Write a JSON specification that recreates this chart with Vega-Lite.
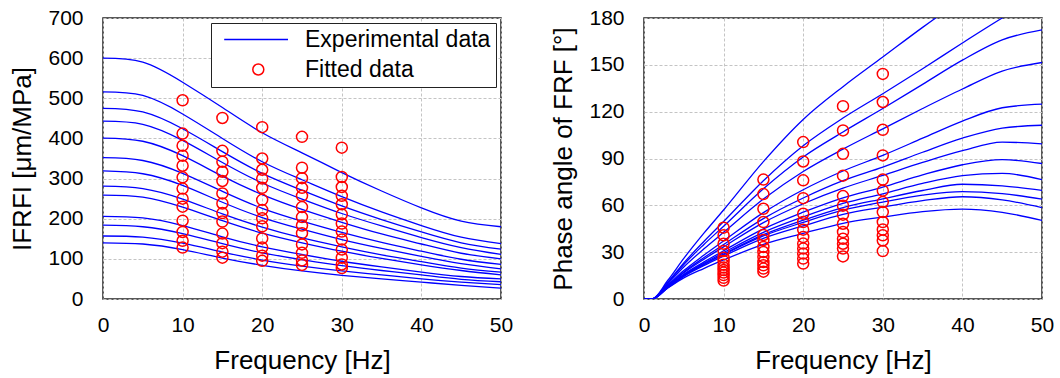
{
"$schema": "https://vega.github.io/schema/vega-lite/v6.json",
"padding": {"left": 9, "top": 6, "right": 5, "bottom": 0},
"background": "#ffffff",
"config": {
  "font": "Liberation Sans",
  "view": {"stroke": "#222222", "strokeWidth": 1.5},
  "axis": {"labelFont": "Liberation Sans", "labelFontSize": 21, "labelColor": "#000000", "labelFlush": false, "labelOverlap": false, "titleFont": "Liberation Sans", "titleFontWeight": "normal", "titleColor": "#000000", "domain": false, "ticks": false, "grid": true, "gridColor": "#c4c4c4", "gridDash": [3, 2], "gridWidth": 1},
  "axisX": {"labelPadding": 15, "titleFontSize": 26, "titlePadding": 12},
  "axisY": {"labelPadding": 20, "titleFontSize": 26, "titlePadding": 12},
  "legend": {"orient": "top-right", "offset": 5, "padding": 5, "strokeColor": "#222222", "fillColor": "#ffffff", "labelFont": "Liberation Sans", "labelFontSize": 23, "labelLimit": 400, "labelColor": "#000000", "symbolSize": 121, "symbolStrokeWidth": 1.5, "symbolOpacity": 1, "labelOffset": 66, "rowPadding": 6}
},
"datasets": {
  "ampLines": [
    {"c":1,"f":0,"v":600},{"c":1,"f":5,"v":590},{"c":1,"f":10,"v":540},{"c":1,"f":15,"v":477},{"c":1,"f":20,"v":414},{"c":1,"f":25,"v":364},{"c":1,"f":30,"v":315},{"c":1,"f":35,"v":269},{"c":1,"f":40,"v":227},{"c":1,"f":45,"v":194},{"c":1,"f":50,"v":180},
    {"c":2,"f":0,"v":516},{"c":2,"f":5,"v":507},{"c":2,"f":10,"v":461},{"c":2,"f":15,"v":400},{"c":2,"f":20,"v":342},{"c":2,"f":25,"v":297},{"c":2,"f":30,"v":255},{"c":2,"f":35,"v":217},{"c":2,"f":40,"v":183},{"c":2,"f":45,"v":154},{"c":2,"f":50,"v":138},
    {"c":3,"f":0,"v":475},{"c":3,"f":5,"v":466},{"c":3,"f":10,"v":424},{"c":3,"f":15,"v":367},{"c":3,"f":20,"v":313},{"c":3,"f":25,"v":271},{"c":3,"f":30,"v":232},{"c":3,"f":35,"v":198},{"c":3,"f":40,"v":167},{"c":3,"f":45,"v":140},{"c":3,"f":50,"v":124},
    {"c":4,"f":0,"v":443},{"c":4,"f":5,"v":435},{"c":4,"f":10,"v":395},{"c":4,"f":15,"v":340},{"c":4,"f":20,"v":289},{"c":4,"f":25,"v":249},{"c":4,"f":30,"v":213},{"c":4,"f":35,"v":182},{"c":4,"f":40,"v":153},{"c":4,"f":45,"v":128},{"c":4,"f":50,"v":111},
    {"c":5,"f":0,"v":401},{"c":5,"f":5,"v":393},{"c":5,"f":10,"v":357},{"c":5,"f":15,"v":306},{"c":5,"f":20,"v":260},{"c":5,"f":25,"v":223},{"c":5,"f":30,"v":191},{"c":5,"f":35,"v":162},{"c":5,"f":40,"v":137},{"c":5,"f":45,"v":114},{"c":5,"f":50,"v":100},
    {"c":6,"f":0,"v":352},{"c":6,"f":5,"v":345},{"c":6,"f":10,"v":313},{"c":6,"f":15,"v":268},{"c":6,"f":20,"v":226},{"c":6,"f":25,"v":194},{"c":6,"f":30,"v":166},{"c":6,"f":35,"v":141},{"c":6,"f":40,"v":119},{"c":6,"f":45,"v":99},{"c":6,"f":50,"v":86},
    {"c":7,"f":0,"v":319},{"c":7,"f":5,"v":312},{"c":7,"f":10,"v":283},{"c":7,"f":15,"v":241},{"c":7,"f":20,"v":203},{"c":7,"f":25,"v":174},{"c":7,"f":30,"v":148},{"c":7,"f":35,"v":126},{"c":7,"f":40,"v":106},{"c":7,"f":45,"v":88},{"c":7,"f":50,"v":75},
    {"c":8,"f":0,"v":281},{"c":8,"f":5,"v":275},{"c":8,"f":10,"v":249},{"c":8,"f":15,"v":212},{"c":8,"f":20,"v":179},{"c":8,"f":25,"v":152},{"c":8,"f":30,"v":130},{"c":8,"f":35,"v":110},{"c":8,"f":40,"v":93},{"c":8,"f":45,"v":77},{"c":8,"f":50,"v":67},
    {"c":9,"f":0,"v":259},{"c":9,"f":5,"v":254},{"c":9,"f":10,"v":229},{"c":9,"f":15,"v":195},{"c":9,"f":20,"v":164},{"c":9,"f":25,"v":140},{"c":9,"f":30,"v":119},{"c":9,"f":35,"v":101},{"c":9,"f":40,"v":85},{"c":9,"f":45,"v":71},{"c":9,"f":50,"v":60},
    {"c":10,"f":0,"v":206},{"c":10,"f":5,"v":202},{"c":10,"f":10,"v":183},{"c":10,"f":15,"v":155},{"c":10,"f":20,"v":130},{"c":10,"f":25,"v":111},{"c":10,"f":30,"v":94},{"c":10,"f":35,"v":80},{"c":10,"f":40,"v":67},{"c":10,"f":45,"v":56},{"c":10,"f":50,"v":50},
    {"c":11,"f":0,"v":184},{"c":11,"f":5,"v":180},{"c":11,"f":10,"v":163},{"c":11,"f":15,"v":138},{"c":11,"f":20,"v":115},{"c":11,"f":25,"v":98},{"c":11,"f":30,"v":83},{"c":11,"f":35,"v":71},{"c":11,"f":40,"v":60},{"c":11,"f":45,"v":49},{"c":11,"f":50,"v":43},
    {"c":12,"f":0,"v":157},{"c":12,"f":5,"v":154},{"c":12,"f":10,"v":139},{"c":12,"f":15,"v":117},{"c":12,"f":20,"v":97},{"c":12,"f":25,"v":82},{"c":12,"f":30,"v":70},{"c":12,"f":35,"v":60},{"c":12,"f":40,"v":50},{"c":12,"f":45,"v":42},{"c":12,"f":50,"v":36},
    {"c":13,"f":0,"v":140},{"c":13,"f":5,"v":137},{"c":13,"f":10,"v":123},{"c":13,"f":15,"v":102},{"c":13,"f":20,"v":84},{"c":13,"f":25,"v":70},{"c":13,"f":30,"v":59},{"c":13,"f":35,"v":50},{"c":13,"f":40,"v":42},{"c":13,"f":45,"v":34},{"c":13,"f":50,"v":27}
  ],
  "ampPts": [
    {"f":10,"v":495},{"f":10,"v":412},{"f":10,"v":382},{"f":10,"v":357},{"f":10,"v":332},{"f":10,"v":303},{"f":10,"v":275},{"f":10,"v":250},{"f":10,"v":230},{"f":10,"v":195},{"f":10,"v":167},{"f":10,"v":145},{"f":10,"v":128},
    {"f":15,"v":451},{"f":15,"v":369},{"f":15,"v":342},{"f":15,"v":317},{"f":15,"v":294},{"f":15,"v":263},{"f":15,"v":238},{"f":15,"v":214},{"f":15,"v":193},{"f":15,"v":163},{"f":15,"v":139},{"f":15,"v":118},{"f":15,"v":103},
    {"f":20,"v":428},{"f":20,"v":350},{"f":20,"v":322},{"f":20,"v":300},{"f":20,"v":277},{"f":20,"v":247},{"f":20,"v":222},{"f":20,"v":201},{"f":20,"v":181},{"f":20,"v":151},{"f":20,"v":128},{"f":20,"v":108},{"f":20,"v":95},
    {"f":25,"v":404},{"f":25,"v":327},{"f":25,"v":301},{"f":25,"v":277},{"f":25,"v":257},{"f":25,"v":229},{"f":25,"v":204},{"f":25,"v":183},{"f":25,"v":164},{"f":25,"v":136},{"f":25,"v":115},{"f":25,"v":96},{"f":25,"v":85},
    {"f":30,"v":377},{"f":30,"v":304},{"f":30,"v":279},{"f":30,"v":257},{"f":30,"v":236},{"f":30,"v":211},{"f":30,"v":188},{"f":30,"v":168},{"f":30,"v":148},{"f":30,"v":123},{"f":30,"v":103},{"f":30,"v":86},{"f":30,"v":77}
  ],
  "phaseLines": [
    {"c":1,"f":0,"v":0},{"c":1,"f":1,"v":0},{"c":1,"f":3,"v":12},{"c":1,"f":5,"v":26},{"c":1,"f":7.5,"v":42},{"c":1,"f":10,"v":57},{"c":1,"f":15,"v":88},{"c":1,"f":20,"v":115},{"c":1,"f":25,"v":136},{"c":1,"f":30,"v":155},{"c":1,"f":35,"v":174},{"c":1,"f":40,"v":192},
    {"c":2,"f":0,"v":0},{"c":2,"f":1,"v":0},{"c":2,"f":3,"v":10.8},{"c":2,"f":5,"v":23.1},{"c":2,"f":7.5,"v":36.7},{"c":2,"f":10,"v":49.6},{"c":2,"f":15,"v":75.8},{"c":2,"f":20,"v":98.2},{"c":2,"f":25,"v":115.9},{"c":2,"f":30,"v":131.5},{"c":2,"f":35,"v":147.5},{"c":2,"f":40,"v":164},{"c":2,"f":45,"v":180},{"c":2,"f":50,"v":195},
    {"c":3,"f":0,"v":0},{"c":3,"f":1,"v":0},{"c":3,"f":3,"v":10.3},{"c":3,"f":5,"v":22.1},{"c":3,"f":7.5,"v":34.8},{"c":3,"f":10,"v":46.6},{"c":3,"f":15,"v":70.6},{"c":3,"f":20,"v":91},{"c":3,"f":25,"v":107},{"c":3,"f":30,"v":122},{"c":3,"f":35,"v":137.5},{"c":3,"f":40,"v":153},{"c":3,"f":45,"v":166},{"c":3,"f":50,"v":172.4},
    {"c":4,"f":0,"v":0},{"c":4,"f":1,"v":0},{"c":4,"f":3,"v":9.8},{"c":4,"f":5,"v":20.5},{"c":4,"f":7.5,"v":32},{"c":4,"f":10,"v":42.7},{"c":4,"f":15,"v":64},{"c":4,"f":20,"v":81.7},{"c":4,"f":25,"v":96},{"c":4,"f":30,"v":109},{"c":4,"f":35,"v":122},{"c":4,"f":40,"v":134.5},{"c":4,"f":45,"v":146},{"c":4,"f":50,"v":151.5},
    {"c":5,"f":0,"v":0},{"c":5,"f":1,"v":0},{"c":5,"f":3,"v":9},{"c":5,"f":5,"v":18.2},{"c":5,"f":7.5,"v":28},{"c":5,"f":10,"v":37.2},{"c":5,"f":15,"v":55.3},{"c":5,"f":20,"v":70},{"c":5,"f":25,"v":82},{"c":5,"f":30,"v":92},{"c":5,"f":35,"v":103},{"c":5,"f":40,"v":114},{"c":5,"f":45,"v":122.5},{"c":5,"f":50,"v":124.8},
    {"c":6,"f":0,"v":0},{"c":6,"f":1,"v":0},{"c":6,"f":3,"v":8.7},{"c":6,"f":5,"v":17.3},{"c":6,"f":7.5,"v":26.4},{"c":6,"f":10,"v":34.9},{"c":6,"f":15,"v":51.5},{"c":6,"f":20,"v":64.7},{"c":6,"f":25,"v":75.8},{"c":6,"f":30,"v":84.5},{"c":6,"f":35,"v":94},{"c":6,"f":40,"v":103},{"c":6,"f":45,"v":109.5},{"c":6,"f":50,"v":111.3},
    {"c":7,"f":0,"v":0},{"c":7,"f":1,"v":0},{"c":7,"f":3,"v":8.4},{"c":7,"f":5,"v":16.8},{"c":7,"f":7.5,"v":25.4},{"c":7,"f":10,"v":33.4},{"c":7,"f":15,"v":48.9},{"c":7,"f":20,"v":61},{"c":7,"f":25,"v":71},{"c":7,"f":30,"v":79.2},{"c":7,"f":35,"v":87.5},{"c":7,"f":40,"v":95},{"c":7,"f":45,"v":100.5},{"c":7,"f":50,"v":99.4},
    {"c":8,"f":0,"v":0},{"c":8,"f":1,"v":0},{"c":8,"f":3,"v":8},{"c":8,"f":5,"v":15.8},{"c":8,"f":7.5,"v":23.6},{"c":8,"f":10,"v":30.9},{"c":8,"f":15,"v":44.9},{"c":8,"f":20,"v":55.6},{"c":8,"f":25,"v":64.8},{"c":8,"f":30,"v":71.7},{"c":8,"f":35,"v":79.5},{"c":8,"f":40,"v":86},{"c":8,"f":45,"v":89.3},{"c":8,"f":50,"v":86.8},
    {"c":9,"f":0,"v":0},{"c":9,"f":1,"v":0},{"c":9,"f":3,"v":7.8},{"c":9,"f":5,"v":15.4},{"c":9,"f":7.5,"v":22.8},{"c":9,"f":10,"v":29.7},{"c":9,"f":15,"v":42.7},{"c":9,"f":20,"v":52.6},{"c":9,"f":25,"v":61.2},{"c":9,"f":30,"v":67.4},{"c":9,"f":35,"v":74},{"c":9,"f":40,"v":79},{"c":9,"f":45,"v":80.5},{"c":9,"f":50,"v":76.4},
    {"c":10,"f":0,"v":0},{"c":10,"f":1,"v":0},{"c":10,"f":3,"v":7.6},{"c":10,"f":5,"v":15.1},{"c":10,"f":7.5,"v":22.2},{"c":10,"f":10,"v":28.8},{"c":10,"f":15,"v":41.2},{"c":10,"f":20,"v":50.5},{"c":10,"f":25,"v":58.6},{"c":10,"f":30,"v":64.2},{"c":10,"f":35,"v":69.5},{"c":10,"f":40,"v":73.5},{"c":10,"f":45,"v":72.5},{"c":10,"f":50,"v":69.6},
    {"c":11,"f":0,"v":0},{"c":11,"f":1,"v":0},{"c":11,"f":3,"v":7.4},{"c":11,"f":5,"v":14.8},{"c":11,"f":7.5,"v":22},{"c":11,"f":10,"v":28.4},{"c":11,"f":15,"v":40.4},{"c":11,"f":20,"v":49.1},{"c":11,"f":25,"v":56.9},{"c":11,"f":30,"v":62.1},{"c":11,"f":35,"v":66.5},{"c":11,"f":40,"v":68.8},{"c":11,"f":45,"v":67.5},{"c":11,"f":50,"v":64},
    {"c":12,"f":0,"v":0},{"c":12,"f":1,"v":0},{"c":12,"f":3,"v":7.2},{"c":12,"f":5,"v":14.5},{"c":12,"f":7.5,"v":21.4},{"c":12,"f":10,"v":27.5},{"c":12,"f":15,"v":38.8},{"c":12,"f":20,"v":46.8},{"c":12,"f":25,"v":54.2},{"c":12,"f":30,"v":58.9},{"c":12,"f":35,"v":63},{"c":12,"f":40,"v":65.5},{"c":12,"f":45,"v":63.5},{"c":12,"f":50,"v":58.5},
    {"c":13,"f":0,"v":0},{"c":13,"f":1,"v":0},{"c":13,"f":3,"v":7},{"c":13,"f":5,"v":13.5},{"c":13,"f":7.5,"v":19.5},{"c":13,"f":10,"v":25},{"c":13,"f":15,"v":35},{"c":13,"f":20,"v":42},{"c":13,"f":25,"v":48.5},{"c":13,"f":30,"v":52.5},{"c":13,"f":35,"v":56},{"c":13,"f":40,"v":57.6},{"c":13,"f":45,"v":55.5},{"c":13,"f":50,"v":50.4}
  ],
  "phasePts": [
    {"f":10,"v":45.7},{"f":10,"v":40.8},{"f":10,"v":35.4},{"f":10,"v":30.7},{"f":10,"v":26.5},{"f":10,"v":24.3},{"f":10,"v":22},{"f":10,"v":20.2},{"f":10,"v":18.5},{"f":10,"v":16.9},{"f":10,"v":15.3},{"f":10,"v":13.6},{"f":10,"v":11.8},
    {"f":15,"v":76.5},{"f":15,"v":67.2},{"f":15,"v":57.8},{"f":15,"v":49.3},{"f":15,"v":41},{"f":15,"v":37.8},{"f":15,"v":33.3},{"f":15,"v":30.1},{"f":15,"v":26.9},{"f":15,"v":23.7},{"f":15,"v":21.6},{"f":15,"v":19.5},{"f":15,"v":17.5},
    {"f":20,"v":100.5},{"f":20,"v":88.1},{"f":20,"v":76},{"f":20,"v":64.6},{"f":20,"v":54.6},{"f":20,"v":49.3},{"f":20,"v":44.4},{"f":20,"v":39.7},{"f":20,"v":35.5},{"f":20,"v":32.3},{"f":20,"v":29.1},{"f":20,"v":25.9},{"f":20,"v":22.7},
    {"f":25,"v":123.5},{"f":25,"v":108},{"f":25,"v":93},{"f":25,"v":79},{"f":25,"v":65.9},{"f":25,"v":59.8},{"f":25,"v":54},{"f":25,"v":48.2},{"f":25,"v":42.9},{"f":25,"v":38.6},{"f":25,"v":35.4},{"f":25,"v":32.3},{"f":25,"v":27.3},
    {"f":30,"v":144.2},{"f":30,"v":126.2},{"f":30,"v":108.4},{"f":30,"v":92},{"f":30,"v":76.5},{"f":30,"v":69.4},{"f":30,"v":62.1},{"f":30,"v":55.7},{"f":30,"v":49.3},{"f":30,"v":44.5},{"f":30,"v":40.8},{"f":30,"v":37.5},{"f":30,"v":30.7}
  ]
},
"spacing": 36,
"resolve": {"scale": {"x": "independent", "y": "independent", "color": "independent"}, "legend": {"color": "independent"}},
"hconcat": [
  {
    "width": 398, "height": 281,
    "layer": [
      {
        "data": {"name": "ampLines"},
        "mark": {"type": "line", "interpolate": "natural", "strokeWidth": 1.3},
        "encoding": {
          "x": {"field": "f", "type": "quantitative", "scale": {"domain": [0, 50], "nice": false}, "axis": {"values": [0, 10, 20, 30, 40, 50], "title": "Frequency [Hz]"}},
          "y": {"field": "v", "type": "quantitative", "scale": {"domain": [0, 700], "nice": false}, "axis": {"values": [0, 100, 200, 300, 400, 500, 600, 700], "title": "IFRFI [μm/MPa]"}},
          "detail": {"field": "c", "type": "nominal"},
          "color": {"datum": "Experimental data", "type": "nominal", "scale": {"domain": ["Experimental data", "Fitted data"], "range": ["#0000ff", "#ff0000"]},
            "legend": {"title": null, "encode": {"symbols": {"update": {"shape": {"signal": "datum.value === 'Fitted data' ? 'M6.6,0A1,1,0,1,1,4.6,0A1,1,0,1,1,6.6,0Z' : 'M-0.6,0H11'"}, "fill": {"value": "transparent"}, "strokeWidth": {"value": 1.5}, "opacity": {"value": 1}}}}}}
        }
      },
      {
        "data": {"name": "ampPts"},
        "mark": {"type": "point", "filled": false, "size": 121, "strokeWidth": 1.5, "opacity": 1},
        "encoding": {
          "x": {"field": "f", "type": "quantitative"},
          "y": {"field": "v", "type": "quantitative"},
          "color": {"datum": "Fitted data", "type": "nominal"}
        }
      }
    ]
  },
  {
    "width": 398, "height": 281,
    "layer": [
      {
        "data": {"name": "phaseLines"},
        "mark": {"type": "line", "interpolate": "monotone", "strokeWidth": 1.3, "color": "#0000ff", "clip": true},
        "encoding": {
          "x": {"field": "f", "type": "quantitative", "scale": {"domain": [0, 50], "nice": false}, "axis": {"values": [0, 10, 20, 30, 40, 50], "title": "Frequency [Hz]"}},
          "y": {"field": "v", "type": "quantitative", "scale": {"domain": [0, 180], "nice": false}, "axis": {"values": [0, 30, 60, 90, 120, 150, 180], "title": "Phase angle of FRF [°]"}},
          "detail": {"field": "c", "type": "nominal"}
        }
      },
      {
        "data": {"name": "phasePts"},
        "mark": {"type": "point", "filled": false, "size": 121, "strokeWidth": 1.5, "color": "#ff0000", "opacity": 1},
        "encoding": {
          "x": {"field": "f", "type": "quantitative"},
          "y": {"field": "v", "type": "quantitative"}
        }
      }
    ]
  }
]
}
